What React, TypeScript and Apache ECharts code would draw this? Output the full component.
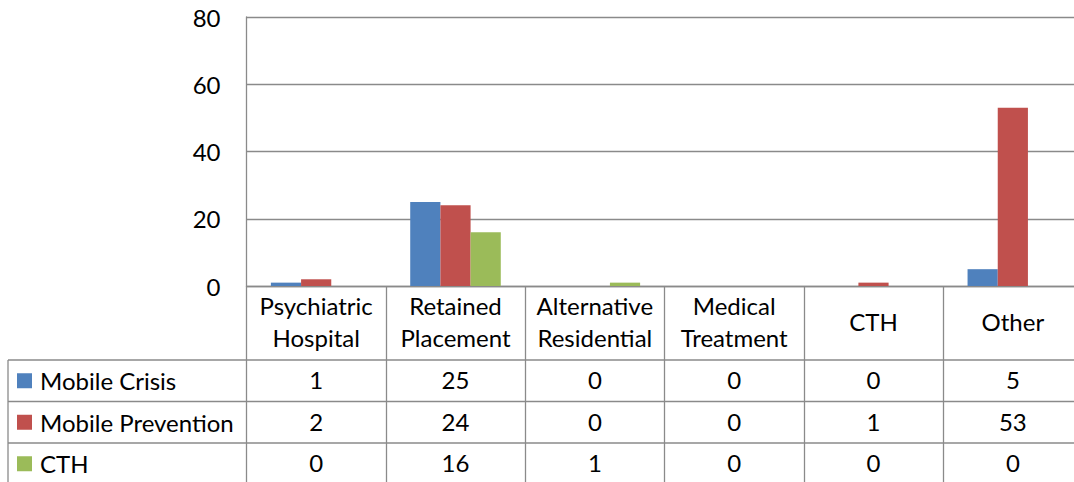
import React, { useEffect, useRef } from "react";
import * as echarts from "echarts";

const categories = [
  "Psychiatric Hospital",
  "Retained Placement",
  "Alternative Residential",
  "Medical Treatment",
  "CTH",
  "Other",
];
const seriesNames = ["Mobile Crisis", "Mobile Prevention", "CTH"];
const mobileCrisis = [1, 25, 0, 0, 0, 5];
const mobilePrevention = [2, 24, 0, 0, 1, 53];
const cthValues = [0, 16, 1, 0, 0, 0];
const yTicks = { min: 0, max: 80, interval: 20 };

const colors = ["#4F81BD", "#C0504D", "#9BBB59"];
const FONT = "Lato";
const FS = 24;
const GRID_COLOR = "#8a8a8a";

export default function App() {
  const ref = useRef<HTMLDivElement>(null);
  useEffect(() => {
    if (!ref.current) return;
    const chart = echarts.init(ref.current, undefined, { renderer: "svg" });
    const values = [mobileCrisis, mobilePrevention, cthValues];
    const gridLeft = 246.5;
    const gridTop = 17;
    const gridHeight = 269;
    const axisY = gridTop + gridHeight; // 286
    const headerBottom = 360;
    const rowH = 41.5;
    const rowCenters = [0, 1, 2].map((k) => headerBottom + rowH * k + rowH / 2);

    const valueAxes = values.map((arr, k) => ({
      type: "category" as const,
      gridIndex: 0,
      position: "bottom" as const,
      data: categories,
      axisLine: { show: false },
      axisTick: { show: false },
      splitLine: { show: false },
      axisLabel: {
        interval: 0,
        margin: rowCenters[k] - axisY - 1,
        verticalAlign: "middle" as const,
        fontFamily: FONT,
        fontSize: FS,
        color: "#000",
        formatter: (_v: string, i: number) => String(arr[i]),
      },
    }));

    const lineStyle = { stroke: GRID_COLOR, lineWidth: 1.3 };
    const graphics: any[] = [];
    [0, 1, 2].forEach((k) => {
      const y = headerBottom + rowH * k;
      graphics.push({
        type: "line",
        shape: { x1: 8, y1: y, x2: 1074, y2: y },
        style: lineStyle,
        silent: true,
      });
    });
    graphics.push({
      type: "line",
      shape: { x1: 8, y1: headerBottom, x2: 8, y2: 482 },
      style: lineStyle,
      silent: true,
    });

    chart.setOption({
      animation: false,
      grid: {
        left: gridLeft,
        top: gridTop,
        width: 836,
        height: gridHeight,
        containLabel: false,
        outerBoundsMode: "none",
      },
      legend: {
        data: seriesNames,
        orient: "vertical",
        left: 17,
        top: rowCenters[0] - 13,
        padding: 0,
        itemWidth: 15,
        itemHeight: 15,
        itemGap: rowH - 26,
        icon: "rect",
        selectedMode: false,
        textStyle: {
          fontFamily: FONT,
          fontSize: FS,
          lineHeight: 26,
          color: "#000",
          padding: [0, 0, 0, 3],
        },
      },
      xAxis: [
        {
          type: "category",
          data: categories,
          axisLine: { show: true, lineStyle: { color: GRID_COLOR, width: 1.3 } },
          axisTick: {
            show: true,
            length: 482 - axisY,
            lineStyle: { color: GRID_COLOR, width: 1.3 },
          },
          axisLabel: {
            interval: 0,
            margin: (headerBottom - axisY) / 2 - 2,
            verticalAlign: "middle",
            align: "center",
            fontFamily: FONT,
            fontSize: FS,
            lineHeight: 32,
            color: "#000",
            formatter: (v: string) => v.replace(" ", "\n"),
          },
        },
        ...valueAxes,
      ],
      yAxis: {
        type: "value",
        min: yTicks.min,
        max: yTicks.max,
        interval: yTicks.interval,
        axisLine: { show: true, lineStyle: { color: GRID_COLOR, width: 1.3 } },
        axisTick: { show: false },
        splitLine: { lineStyle: { color: GRID_COLOR, width: 1.3 } },
        axisLabel: {
          margin: 26,
          fontFamily: FONT,
          fontSize: FS,
          color: "#000",
        },
      },
      graphic: graphics,
      series: values.map((arr, k) => ({
        name: seriesNames[k],
        type: "bar",
        data: arr,
        xAxisIndex: 0,
        barGap: "0%",
        barCategoryGap: "35%",
        itemStyle: { color: colors[k] },
      })),
    });
    return () => chart.dispose();
  }, []);
  return (
    <div
      ref={ref}
      style={{ position: "absolute", left: 0, top: 0, width: 1074, height: 482 }}
    />
  );
}
